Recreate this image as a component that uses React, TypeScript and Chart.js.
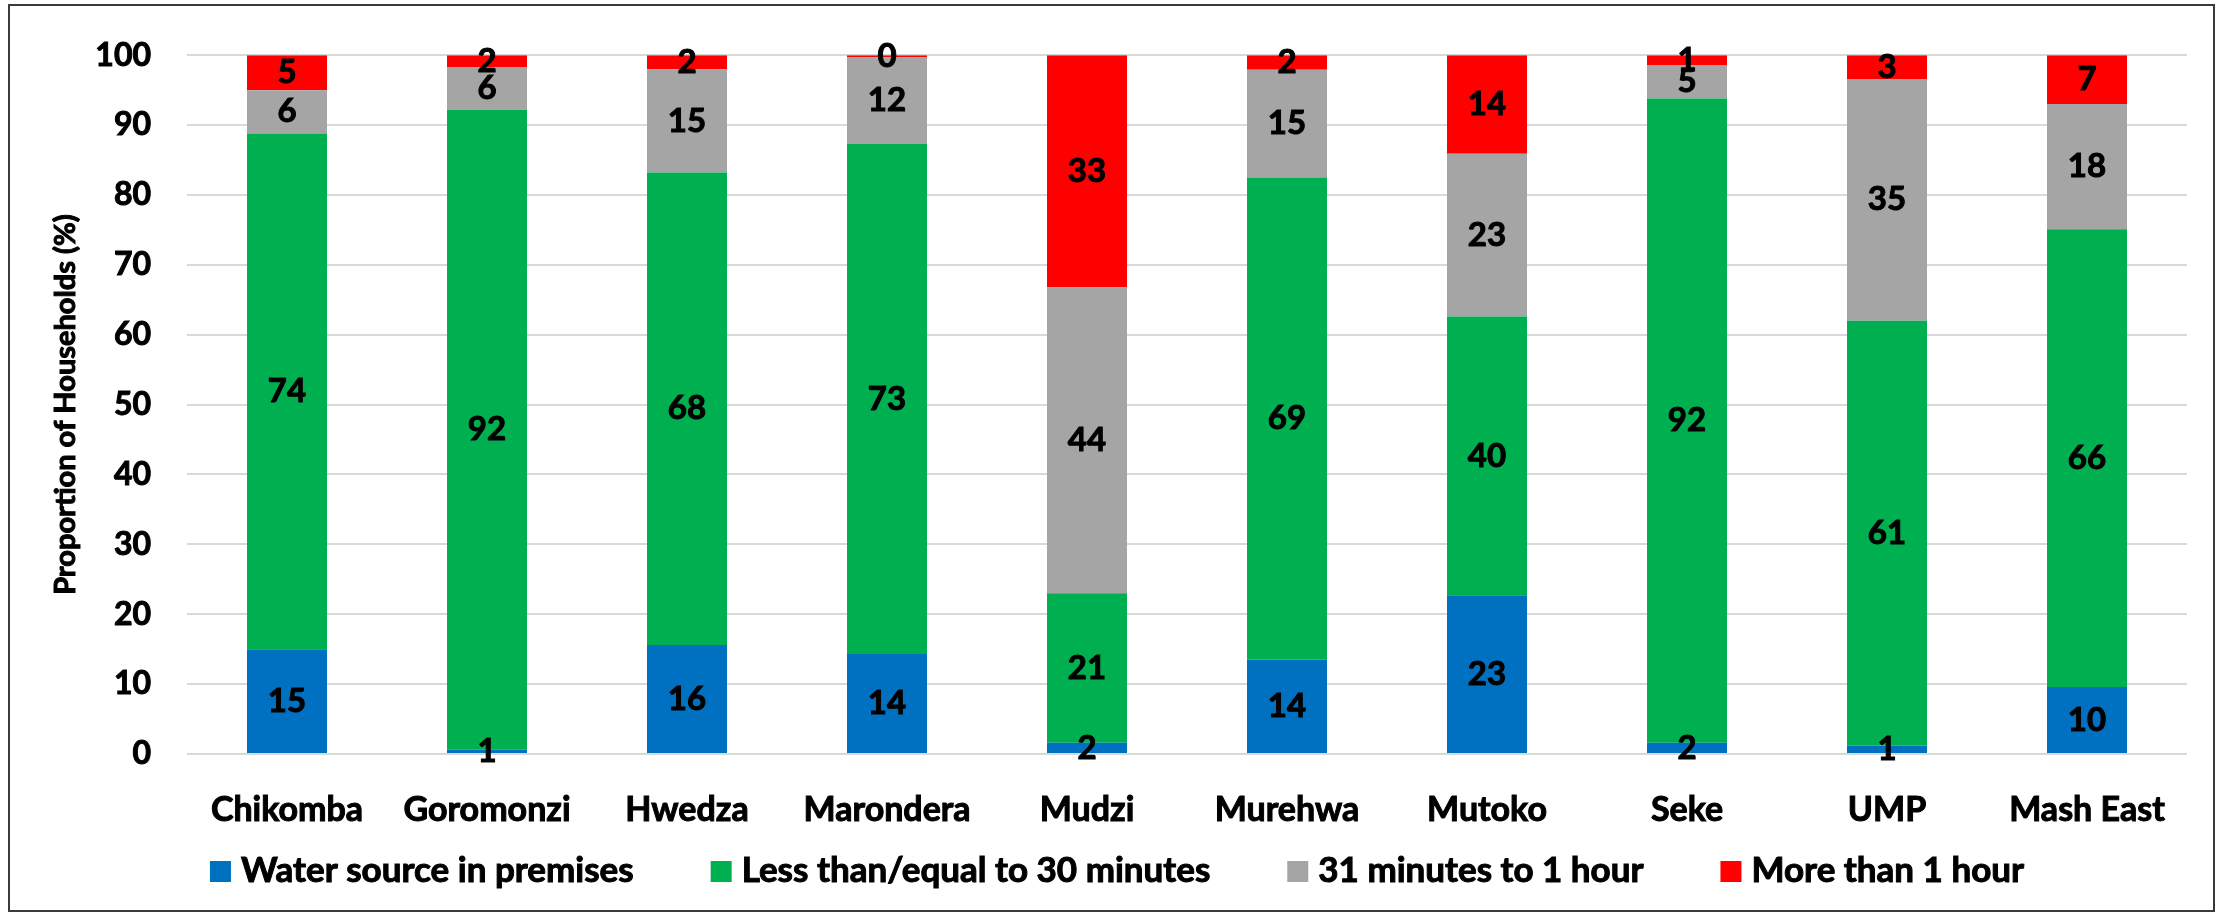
import { useEffect, useRef } from "react";
import { Chart, registerables } from "chart.js";

Chart.register(...registerables);

// Districts of Mashonaland East plus the provincial total
const districts = [
  "Chikomba",
  "Goromonzi",
  "Hwedza",
  "Marondera",
  "Mudzi",
  "Murehwa",
  "Mutoko",
  "Seke",
  "UMP",
  "Mash East",
];

const seriesNames = [
  "Water source in premises",
  "Less than/equal to 30 minutes",
  "31 minutes to 1 hour",
  "More than 1 hour",
];

// Share of households (%) by time taken to reach the water source
const inPremises = [15.0, 0.6, 15.6, 14.3, 1.6, 13.5, 22.7, 1.6, 1.2, 9.6];
const upTo30Minutes = [73.8, 91.6, 67.6, 73.0, 21.4, 69.0, 39.9, 92.2, 60.8, 65.5];
const from31MinutesTo1Hour = [6.2, 6.1, 14.8, 12.4, 43.8, 15.4, 23.3, 4.8, 34.6, 17.9];
const overOneHour = [5.0, 1.7, 2.0, 0.3, 33.2, 2.1, 14.1, 1.4, 3.4, 7.0];

const seriesColors = ["#0070C0", "#00B050", "#A5A5A5", "#FF0000"];

const yMin = 0;
const yMax = 100;
const yStep = 10;
const yTitle = "Proportion of Households (%)";

const FONT = "Lato";
const WEIGHT = "bold";
// a thin outline of the glyphs makes the bold text a little heavier
const STROKE = 1;

function heavyText(ctx: CanvasRenderingContext2D, text: string, x: number, y: number) {
  ctx.fillText(text, x, y);
  ctx.lineWidth = STROKE;
  ctx.strokeStyle = "#000000";
  ctx.strokeText(text, x, y);
}

const segmentLabels = {
  id: "segmentLabels",
  afterDatasetsDraw(chart: any) {
    const { ctx } = chart;
    ctx.save();
    ctx.font = `${WEIGHT} 33px ${FONT}`;
    ctx.fillStyle = "#000000";
    ctx.textAlign = "center";
    ctx.textBaseline = "middle";
    chart.data.datasets.forEach((ds: any, i: number) => {
      const meta = chart.getDatasetMeta(i);
      meta.data.forEach((bar: any, j: number) => {
        const { x, y, base } = bar.getProps(["x", "y", "base"], true);
        heavyText(ctx, String(Math.round(ds.data[j])), x, (y + base) / 2);
      });
    });
    ctx.restore();
  },
};

const frameTitleLegend = {
  id: "frameTitleLegend",
  afterDraw(chart: any) {
    const { ctx, chartArea } = chart;
    ctx.save();

    // outer frame
    ctx.strokeStyle = "#3a3a3a";
    ctx.lineWidth = 2;
    ctx.strokeRect(9, 5, 2205, 906);

    // vertical axis title, centred on the plot height
    ctx.save();
    ctx.translate(66, (chartArea.top + chartArea.bottom) / 2);
    ctx.rotate(-Math.PI / 2);
    ctx.font = `${WEIGHT} 29px ${FONT}`;
    ctx.fillStyle = "#000000";
    ctx.textAlign = "center";
    ctx.textBaseline = "middle";
    heavyText(ctx, yTitle, 0, 0);
    ctx.restore();

    // legend row
    ctx.font = `${WEIGHT} 35px ${FONT}`;
    ctx.textAlign = "left";
    ctx.textBaseline = "middle";
    const box = 21;
    const boxGap = 10;
    const itemGap = 77;
    const widths = seriesNames.map((n) => ctx.measureText(n).width);
    const total =
      widths.reduce((a: number, w: number) => a + box + boxGap + w, 0) +
      itemGap * (seriesNames.length - 1);
    let x = 1117 - total / 2;
    seriesNames.forEach((name, i) => {
      ctx.fillStyle = seriesColors[i];
      ctx.fillRect(x, 861, box, box);
      ctx.fillStyle = "#000000";
      heavyText(ctx, name, x + box + boxGap, 871);
      x += box + boxGap + widths[i] + itemGap;
    });

    ctx.restore();
  },
};

export default function App() {
  const canvasRef = useRef<HTMLCanvasElement | null>(null);

  useEffect(() => {
    const canvas = canvasRef.current;
    if (!canvas) return;
    const series = [inPremises, upTo30Minutes, from31MinutesTo1Hour, overOneHour];
    const chart = new Chart(canvas, {
      type: "bar",
      data: {
        labels: districts,
        datasets: series.map((data, i) => ({
          label: seriesNames[i],
          data,
          backgroundColor: seriesColors[i],
          borderWidth: 0,
          categoryPercentage: 1,
          barPercentage: 0.4,
        })),
      },
      options: {
        responsive: false,
        animation: false,
        devicePixelRatio: 1,
        layout: { padding: { top: 40, right: 40, left: 0, bottom: 0 } },
        plugins: {
          legend: { display: false },
          tooltip: { enabled: false },
          title: { display: false },
        },
        scales: {
          x: {
            stacked: true,
            grid: { display: false },
            border: { display: false },
            ticks: {
              color: "#000000",
              font: { family: FONT, size: 34, weight: WEIGHT },
              textStrokeColor: "#000000",
              textStrokeWidth: STROKE,
              padding: 28,
              maxRotation: 0,
              autoSkip: false,
            },
            afterFit: (s: any) => {
              s.height = 160;
            },
          },
          y: {
            stacked: true,
            min: yMin,
            max: yMax,
            grid: { color: "#D9D9D9", lineWidth: 2, drawTicks: false },
            border: { display: false },
            ticks: {
              stepSize: yStep,
              color: "#000000",
              font: { family: FONT, size: 32, weight: WEIGHT },
              textStrokeColor: "#000000",
              textStrokeWidth: STROKE,
              padding: 36,
            },
            afterFit: (s: any) => {
              s.width = 187;
            },
          },
        },
      },
      plugins: [segmentLabels, frameTitleLegend],
    });

    let alive = true;
    if ((document as any).fonts?.load) {
      (document as any).fonts.load(`${WEIGHT} 30px ${FONT}`).then(() => {
        if (alive) chart.update();
      });
    }

    return () => {
      alive = false;
      chart.destroy();
    };
  }, []);

  return (
    <div style={{ position: "fixed", left: 0, top: 0, width: 2227, height: 914, background: "#ffffff" }}>
      <canvas ref={canvasRef} width={2227} height={914} style={{ display: "block" }} />
    </div>
  );
}
